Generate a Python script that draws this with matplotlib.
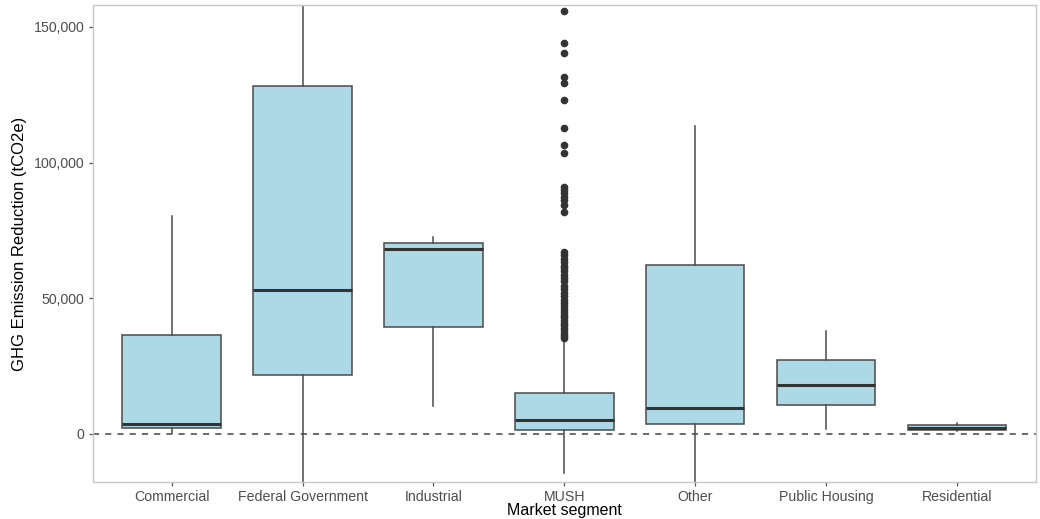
import matplotlib.pyplot as plt
from matplotlib.ticker import FuncFormatter

plt.rcParams['font.family'] = ['Liberation Sans', 'DejaVu Sans']

# Dados (tCO2e)
segmentos = ['Commercial', 'Federal Government', 'Industrial', 'MUSH',
             'Other', 'Public Housing', 'Residential']
bigode_inf = [200, -30000, 10400, -14300, -25000, 1700, 1200]
q1 = [2200, 21700, 39300, 1500, 3600, 10600, 1500]
mediana = [3700, 53100, 68100, 5200, 9500, 18100, 2300]
q3 = [36600, 128300, 70300, 15200, 62300, 27300, 3200]
bigode_sup = [80300, 175000, 72500, 35300, 113500, 38100, 3900]

# Outliers do MUSH
outliers_mush = [156000, 144000, 140500, 131700, 129500, 123100, 112700,
                 106500, 103700, 91200, 89900, 88700, 87500, 86200, 84400,
                 81900, 67200, 66000, 64500, 63200, 62000, 61000, 60000,
                 58600, 57500, 56400, 54500, 53400, 52100, 50700, 49500,
                 48200, 47100, 46000, 45000, 44000, 43000, 42000, 41000,
                 40000, 39000, 38000, 37000, 36000, 35500]

stats = []
for i, nome in enumerate(segmentos):
    stats.append({
        'label': nome,
        'whislo': bigode_inf[i],
        'q1': q1[i],
        'med': mediana[i],
        'q3': q3[i],
        'whishi': bigode_sup[i],
        'fliers': outliers_mush if nome == 'MUSH' else [],
    })

fig = plt.figure(figsize=(10.4, 5.19), dpi=100)
ax = fig.add_axes([0.0894, 0.0713, 0.9066, 0.9191])

cor_linha = '#4a4a4a'
ax.axhline(0, color='#444444', linestyle=(0, (4, 4)), linewidth=1.1, zorder=1)
ax.bxp(stats, positions=range(len(segmentos)), widths=0.75, patch_artist=True,
       showcaps=False,
       boxprops=dict(facecolor='#ADD8E6', edgecolor=cor_linha, linewidth=1.1),
       medianprops=dict(color='#333333', linewidth=2.2),
       whiskerprops=dict(color=cor_linha, linewidth=1.1),
       flierprops=dict(marker='o', markersize=4.5, markerfacecolor='#333333',
                       markeredgecolor='#333333'),
       zorder=2)

ax.set_xlim(-0.6, 6.6)
ax.set_ylim(-17700, 158100)
ax.set_yticks([0, 50000, 100000, 150000])
ax.yaxis.set_major_formatter(FuncFormatter(lambda v, p: f'{int(v):,}'))

for s in ax.spines.values():
    s.set_color('#c8c8c8')
    s.set_linewidth(1.0)
ax.tick_params(axis='both', colors='#555555', labelcolor='#4d4d4d',
               labelsize=10.2, length=3, width=0.9, pad=3)

ax.set_xlabel('Market segment', fontsize=11.5, labelpad=-1)
ax.set_ylabel('GHG Emission Reduction (tCO2e)', fontsize=12, labelpad=5)

fig.savefig('out.png', dpi=100)
